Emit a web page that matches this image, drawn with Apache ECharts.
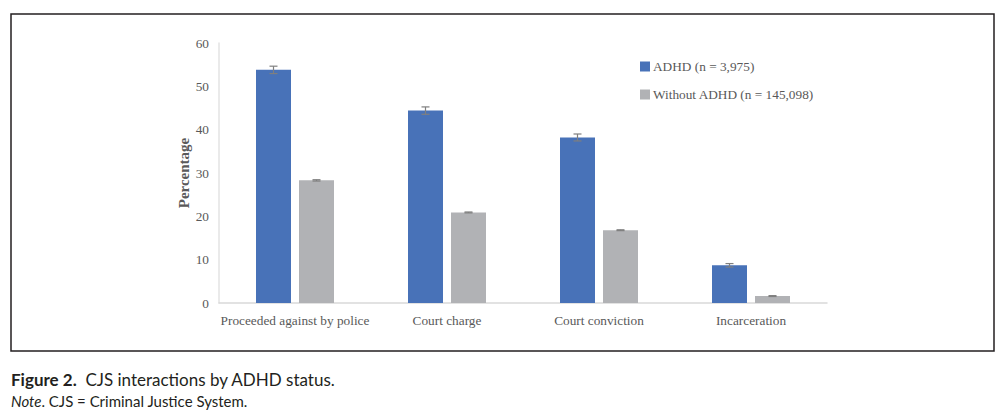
<!DOCTYPE html>
<html>
<head>
<meta charset="utf-8">
<script src="https://cdn.jsdelivr.net/npm/echarts@6/dist/echarts.min.js"></script>
<style>
html,body{margin:0;padding:0;background:#fff;}
#chart{width:1005px;height:418px;}
</style>
</head>
<body>
<div id="chart"></div>
<script>
const categories = ['Proceeded against by police', 'Court charge', 'Court conviction', 'Incarceration'];
const seriesNames = ['ADHD (n = 3,975)', 'Without ADHD (n = 145,098)'];
const adhdValues = [53.8, 44.4, 38.2, 8.7];
const adhdErrors = [0.85, 0.85, 0.8, 0.4];
const withoutValues = [28.3, 20.9, 16.8, 1.6];
const withoutErrors = [0.15, 0.1, 0.1, 0.1];
const yTicks = [0, 10, 20, 30, 40, 50, 60];

const BLUE = '#4872B8';
const GRAY = '#B1B2B5';
const TXT = '#595959';
const SERIF = '"Liberation Serif", "DejaVu Serif", serif';
const SANS = 'Lato, "Open Sans", sans-serif';

const BAR_W = 35, BAR_GAP = 8;

function errorSeries(values, errors, sign) {
  return {
    type: 'custom',
    z: 10,
    silent: true,
    data: values.map((v, i) => [i, v, errors[i]]),
    renderItem: function (params, api) {
      const idx = api.value(0), v = api.value(1), e = api.value(2);
      const off = sign * (BAR_W + BAR_GAP) / 2;
      const hi = api.coord([idx, v + e]);
      const lo = api.coord([idx, v - e]);
      const x = hi[0] + off;
      const cap = 4;
      const st = { stroke: '#7F7F7F', lineWidth: 1.2 };
      return {
        type: 'group',
        children: [
          { type: 'line', shape: { x1: x, y1: hi[1], x2: x, y2: lo[1] }, style: st },
          { type: 'line', shape: { x1: x - cap, y1: hi[1], x2: x + cap, y2: hi[1] }, style: st },
          { type: 'line', shape: { x1: x - cap, y1: lo[1], x2: x + cap, y2: lo[1] }, style: st }
        ]
      };
    }
  };
}

const chart = echarts.init(document.getElementById('chart'), null, { renderer: 'svg' });
chart.setOption({
  animation: false,
  grid: { left: 219, right: 178, top: 43, bottom: 115 },
  legend: {
    orient: 'vertical',
    left: 640,
    top: 60,
    padding: 0,
    itemWidth: 10,
    itemHeight: 10,
    itemGap: 15,
    icon: 'rect',
    data: seriesNames,
    textStyle: { fontFamily: SERIF, fontSize: 13.3, color: TXT, padding: [0, 0, 0, -2] }
  },
  xAxis: {
    type: 'category',
    data: categories,
    axisLine: { lineStyle: { color: '#D9D9D9', width: 1.5 } },
    axisTick: { show: false },
    axisLabel: { interval: 0, fontFamily: SERIF, fontSize: 13.3, color: TXT, margin: 11 }
  },
  yAxis: {
    type: 'value',
    min: yTicks[0],
    max: yTicks[yTicks.length - 1],
    interval: 10,
    name: 'Percentage',
    nameLocation: 'middle',
    nameGap: 35,
    nameMoveOverlap: false,
    nameTextStyle: { fontFamily: SERIF, fontSize: 15, fontWeight: 'bold', color: TXT, verticalAlign: 'middle' },
    axisLine: { show: true, lineStyle: { color: '#E3E3E3', width: 1.5 } },
    axisTick: { show: false },
    splitLine: { show: false },
    axisLabel: { fontFamily: SERIF, fontSize: 13.3, color: TXT, margin: 10 }
  },
  series: [
    { name: seriesNames[0], type: 'bar', data: adhdValues, barWidth: BAR_W, barGap: (BAR_GAP / BAR_W * 100) + '%', itemStyle: { color: BLUE } },
    { name: seriesNames[1], type: 'bar', data: withoutValues, barWidth: BAR_W, itemStyle: { color: GRAY } },
    errorSeries(adhdValues, adhdErrors, -1),
    errorSeries(withoutValues, withoutErrors, 1)
  ],
  graphic: [
    { type: 'rect', shape: { x: 11, y: 14, width: 983, height: 337 }, style: { fill: 'none', stroke: '#231F20', lineWidth: 1.5 }, silent: true },
    { type: 'text', left: 11, top: 371, style: { rich: { b: { fontFamily: SANS, fontSize: 17, fontWeight: 'bold', fill: '#231F20' }, n: { fontFamily: SANS, fontSize: 17, fill: '#231F20' } }, text: '{b|Figure 2.}{n|  CJS interactions by ADHD status.}' } },
    { type: 'text', left: 11, top: 393, style: { rich: { i: { fontFamily: SANS, fontSize: 15, fontStyle: 'italic', fill: '#231F20' }, n: { fontFamily: SANS, fontSize: 15, fill: '#231F20' } }, text: '{i|Note}{n|. CJS = Criminal Justice System.}' } }
  ]
});
</script>
</body>
</html>
